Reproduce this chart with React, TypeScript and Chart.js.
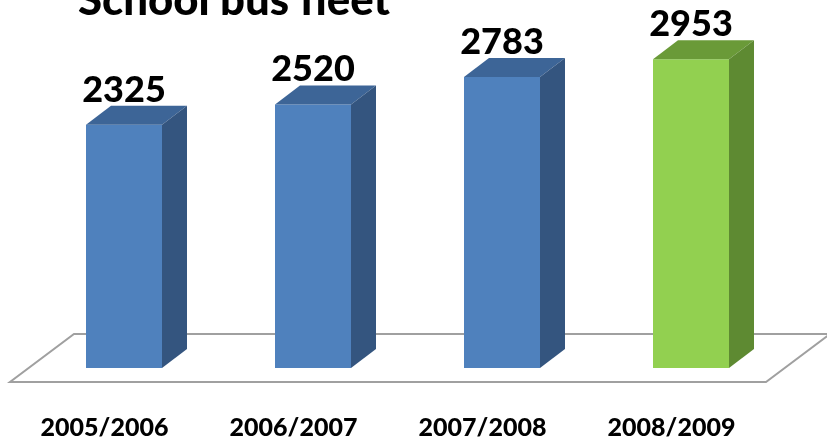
import React, { useEffect, useRef } from "react";
import { Chart, registerables } from "chart.js";

Chart.register(...registerables);

const TITLE = "School bus fleet";
const categories = ["2005/2006", "2006/2007", "2007/2008", "2008/2009"];
const fleetValues = [2325, 2520, 2783, 2953];
const frontColors = ["#4F81BD", "#4F81BD", "#4F81BD", "#92D050"];
const topColors = ["#3D6597", "#3D6597", "#3D6597", "#6A9A38"];
const sideColors = ["#34557F", "#34557F", "#34557F", "#5E8A32"];

const DEPTH_X = 25;
const DEPTH_Y = 19;
const FONT = "Lato, 'Open Sans', 'DejaVu Sans', sans-serif";

const floorPlugin = {
  id: "floor3d",
  beforeDatasetsDraw(chart: any) {
    const { ctx, chartArea } = chart;
    const base = chart.scales.y.getPixelForValue(0);
    const frontY = base + 14;
    const backY = frontY - 48;
    const l = chartArea.left - 19.5;
    const r = chartArea.right - 19.5;
    ctx.save();
    ctx.beginPath();
    ctx.moveTo(l, frontY);
    ctx.lineTo(r, frontY);
    ctx.lineTo(r + 64, backY);
    ctx.lineTo(l + 64, backY);
    ctx.closePath();
    ctx.fillStyle = "#ffffff";
    ctx.fill();
    ctx.strokeStyle = "#a0a0a0";
    ctx.lineWidth = 2;
    ctx.lineJoin = "miter";
    ctx.stroke();
    ctx.restore();
  },
};

const barsPlugin = {
  id: "bars3d",
  afterDatasetsDraw(chart: any) {
    const { ctx } = chart;
    const meta = chart.getDatasetMeta(0);
    ctx.save();
    meta.data.forEach((bar: any, i: number) => {
      const { x, y, width, base } = bar.getProps(["x", "y", "width", "base"], true);
      const l = x - width / 2;
      const r = x + width / 2;
      // top face
      ctx.beginPath();
      ctx.moveTo(l, y);
      ctx.lineTo(r, y);
      ctx.lineTo(r + DEPTH_X, y - DEPTH_Y);
      ctx.lineTo(l + DEPTH_X, y - DEPTH_Y);
      ctx.closePath();
      ctx.fillStyle = topColors[i];
      ctx.fill();
      // side face
      ctx.beginPath();
      ctx.moveTo(r, y);
      ctx.lineTo(r + DEPTH_X, y - DEPTH_Y);
      ctx.lineTo(r + DEPTH_X, base - DEPTH_Y);
      ctx.lineTo(r, base);
      ctx.closePath();
      ctx.fillStyle = sideColors[i];
      ctx.fill();
      // value label
      ctx.fillStyle = "#000000";
      ctx.font = `900 36px ${FONT}`;
      ctx.textAlign = "center";
      ctx.textBaseline = "alphabetic";
      ctx.fillText(String(fleetValues[i]), x, y - 23);
    });
    // title
    ctx.font = `900 100px ${FONT}`;
    const w = ctx.measureText(TITLE).width;
    const size = (100 * 312) / w;
    ctx.font = `900 ${size}px ${FONT}`;
    ctx.textAlign = "left";
    ctx.textBaseline = "alphabetic";
    ctx.fillStyle = "#000000";
    ctx.fillText(TITLE, 78, 15);
    ctx.restore();
  },
};

export default function App() {
  const ref = useRef<HTMLCanvasElement>(null);
  useEffect(() => {
    if (!ref.current) return;
    const chart = new Chart(ref.current, {
      type: "bar",
      data: {
        labels: categories,
        datasets: [
          {
            data: fleetValues,
            backgroundColor: frontColors,
            borderWidth: 0,
            barPercentage: 1,
            categoryPercentage: 76 / 189,
          },
        ],
      },
      options: {
        animation: false,
        responsive: false,
        events: [],
        layout: { padding: { top: 2, left: 29.5, right: 41.5, bottom: 0 } },
        plugins: {
          legend: { display: false },
          title: { display: false },
          tooltip: { enabled: false },
        },
        scales: {
          x: {
            grid: { display: false, drawTicks: false },
            border: { display: false },
            ticks: {
              color: "#000000",
              font: { family: FONT, size: 25, weight: 900 },
              padding: 45,
              labelOffset: -19.5,
              maxRotation: 0,
              autoSkip: false,
            },
            afterFit: (scale: any) => {
              scale.height = 71;
            },
          },
          y: {
            display: false,
            min: 0,
            max: 3500,
          },
        },
      },
      plugins: [floorPlugin, barsPlugin],
    });
    return () => chart.destroy();
  }, []);
  return (
    <div style={{ position: "fixed", left: 0, top: 0, width: 827, height: 439, background: "#fff" }}>
      <canvas ref={ref} width={827} height={439} style={{ display: "block" }} />
    </div>
  );
}
